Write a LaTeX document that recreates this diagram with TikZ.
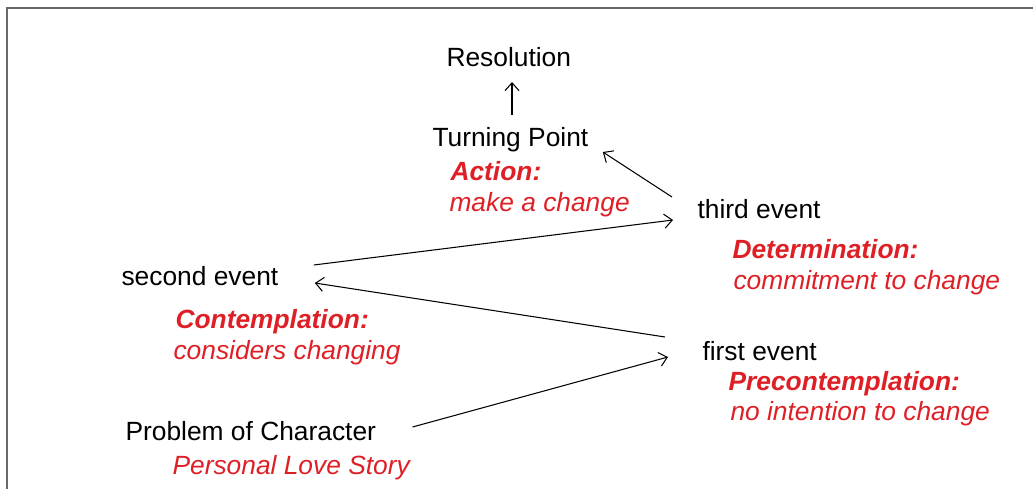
\documentclass[tikz,border=0pt]{standalone}
\usepackage{fontspec}
\setmainfont{Liberation Sans}
\usetikzlibrary{arrows.meta,calc}
\definecolor{stagered}{RGB}{222,32,38}
\definecolor{framegray}{RGB}{105,105,105}

\begin{document}
\begin{tikzpicture}[x=0.02cm,y=-0.02cm,>={Straight Barb[length=4.5pt,width=8pt]},line width=0.6pt]
    \tikzstyle{txt}=[inner sep=0pt,anchor=base west,font=\fontsize{15}{18}\selectfont]
    \tikzstyle{event}=[txt,text=black]
    \tikzstyle{stage}=[txt,text=stagered,font=\fontsize{15}{18}\selectfont\bfseries\itshape]
    \tikzstyle{note}=[txt,text=stagered,font=\fontsize{15}{18}\selectfont\itshape]
    \tikzstyle{link}=[->,draw=black]

    \useasboundingbox (0,0) rectangle (1033,489);

    % Draw the frame
    \draw[framegray,line width=1.2pt] (1033,8) -- (7,8) -- (7,489);

    % Draw the plot events
    \foreach \name/\x/\y/\txt in {res/446/67/Resolution, tp/432/147/Turning Point,
        third/697/219/third event, second/121/285/second event,
        first/702/360/first event, prob/125/440/Problem of Character}
        \node[event] (\name) at (\x,\y) {\txt};

    % Draw the stages of change
    \node[stage] (action) at (450,181) {Action:};
    \node[note] (action-n) at (449,212) {make a change};
    \node[stage] (determ) at (732,258) {Determination:};
    \node[note] (determ-n) at (733,289) {commitment to change};
    \node[stage] (contemp) at (175,328) {Contemplation:};
    \node[note] (contemp-n) at (173,359) {considers changing};
    \node[stage] (precontemp) at (728,390) {Precontemplation:};
    \node[note] (precontemp-n) at (730,420) {no intention to change};
    \node[note] (love) at (172,474) {Personal Love Story};

    % Connect the events from the problem up to the resolution
    \draw[link] ($(prob.base east)+(36,-13)$) -- ($(first.base west)+(-34,-3)$);
    \draw[link] ($(first.base west)+(-37,-23)$) -- ($(second.base east)+(36,-2)$);
    \draw[link] ($(second.base east)+(35,-20)$) -- ($(third.base west)+(-24,1)$);
    \draw[link] ($(third.base west)+(-25,-22)$) -- ($(tp.base east)+(14,5)$);
    \draw[link] ($(tp.base west)+(80,-32)$) -- ($(res.base west)+(66,15)$);
\end{tikzpicture}
\end{document}
